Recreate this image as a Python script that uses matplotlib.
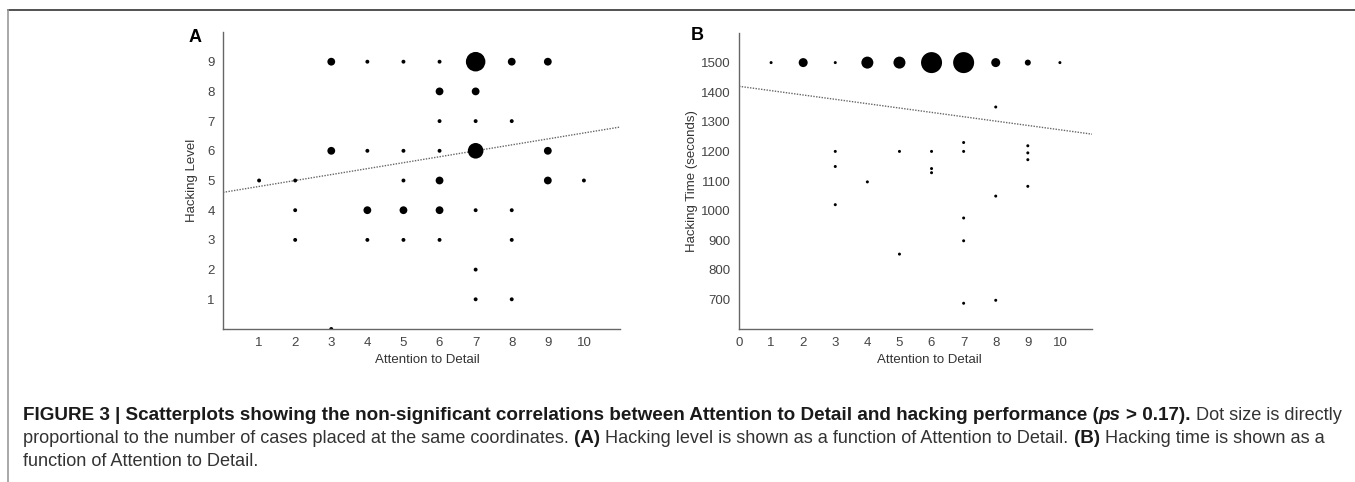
import matplotlib
matplotlib.use('Agg')
import matplotlib.pyplot as plt
from matplotlib.lines import Line2D

plt.rcParams['font.family'] = ['Liberation Sans', 'DejaVu Sans']

# Panel A: hacking level vs attention to detail (n = cases at the same coordinates)
a_detail = [3, 4, 5, 6, 7, 8, 9,
            6, 7,
            6, 7, 8,
            3, 4, 5, 6, 7, 9,
            1, 2, 5, 6, 9, 10,
            2, 4, 5, 6, 7, 8,
            2, 4, 5, 6, 8,
            7,
            7, 8,
            3]
a_level = [9, 9, 9, 9, 9, 9, 9,
           8, 8,
           7, 7, 7,
           6, 6, 6, 6, 6, 6,
           5, 5, 5, 5, 5, 5,
           4, 4, 4, 4, 4, 4,
           3, 3, 3, 3, 3,
           2,
           1, 1,
           0]
a_n = [2, 1, 1, 1, 5, 2, 2,
       2, 2,
       1, 1, 1,
       2, 1, 1, 1, 4, 2,
       1, 1, 1, 2, 2, 1,
       1, 2, 2, 2, 1, 1,
       1, 1, 1, 1, 1,
       1,
       1, 1,
       1]
a_fit = (4.6, 0.2)  # intercept, slope

# Panel B: hacking time (seconds) vs attention to detail
b_detail = [1, 2, 3, 4, 5, 6, 7, 8, 9, 10,
            3, 3, 3, 4, 5, 5, 6, 6, 6,
            7, 7, 7, 7, 7, 8, 8, 8, 9, 9, 9, 9]
b_time = [1500, 1500, 1500, 1500, 1500, 1500, 1500, 1500, 1500, 1500,
          1200, 1149, 1020, 1097, 1200, 853, 1200, 1142, 1128,
          1230, 1200, 975, 898, 687, 1350, 1049, 697, 1219, 1195, 1172, 1082]
b_n = [1, 3, 1, 4, 4, 7, 7, 3, 2, 1,
       1, 1, 1, 1, 1, 1, 1, 1, 1,
       1, 1, 1, 1, 1, 1, 1, 1, 1, 1, 1, 1]
b_fit = (1420, -14.7)

W, H = 1355, 482
fig = plt.figure(figsize=(W / 100, H / 100), dpi=100)


def px_box(left, top, right, bottom):
    return [left / W, 1 - bottom / H, (right - left) / W, (bottom - top) / H]


def style_axes(ax):
    for side in ['top', 'right']:
        ax.spines[side].set_visible(False)
    for side in ['left', 'bottom']:
        ax.spines[side].set_color('#666666')
        ax.spines[side].set_linewidth(1.0)
        ax.spines[side].set_zorder(5)
    ax.tick_params(axis='both', labelsize=9.5, colors='#444444', length=0)
    ax.tick_params(axis='y', pad=6)
    ax.tick_params(axis='x', pad=6)


def dot_size(counts, px_per_case):
    # diameter grows with the number of cases, scatter wants area in pt^2
    return [(c * px_per_case * 0.72) ** 2 for c in counts]


# ---- A ----
ax1 = fig.add_axes(px_box(223, 32, 620, 329))
ax1.scatter(a_detail, a_level, s=dot_size(a_n, 3.9), color='black', linewidths=0, zorder=3)
ax1.plot([0, 11], [a_fit[0], a_fit[0] + a_fit[1] * 11], color='#666666', lw=1.0,
         linestyle=(0, (1, 1)), zorder=2)
ax1.set_xlim(0, 11)
ax1.set_ylim(0, 10)
ax1.set_xticks(range(1, 11))
ax1.set_yticks(range(1, 10))
style_axes(ax1)
ax1.set_xlabel('Attention to Detail', fontsize=9.5, color='#333333')
ax1.set_ylabel('Hacking Level', fontsize=9.5, color='#333333')
ax1.xaxis.set_label_coords(0.516, -0.085)
ax1.yaxis.set_label_coords(-0.063, 0.5)
fig.text(195 / W, 1 - 37 / H, 'A', fontsize=13, fontweight='bold', va='center', ha='center')

# ---- B ----
ax2 = fig.add_axes(px_box(739, 33, 1092, 329))
ax2.scatter(b_detail, b_time, s=dot_size(b_n, 3.0), color='black', linewidths=0, zorder=3)
ax2.plot([0, 11], [b_fit[0], b_fit[0] + b_fit[1] * 11], color='#666666', lw=1.0,
         linestyle=(0, (1, 1)), zorder=2)
ax2.set_xlim(0, 11)
ax2.set_ylim(600, 1600)
ax2.set_xticks(range(0, 11))
ax2.set_yticks(range(700, 1600, 100))
style_axes(ax2)
ax2.set_xlabel('Attention to Detail', fontsize=9.5, color='#333333')
ax2.set_ylabel('Hacking Time (seconds)', fontsize=9.5, color='#333333')
ax2.xaxis.set_label_coords(0.54, -0.085)
ax2.yaxis.set_label_coords(-0.116, 0.5)
fig.text(697 / W, 1 - 36 / H, 'B', fontsize=13, fontweight='bold', va='center', ha='center')

# ---- frame ----
fig.add_artist(Line2D([8 / W, 1], [1 - 10 / H, 1 - 10 / H], color='#333333', lw=1.2))
fig.add_artist(Line2D([8 / W, 8 / W], [0, 1 - 10 / H], color='#999999', lw=1.2))

# ---- caption ----
caption = [
    [('FIGURE 3 | Scatterplots showing the non-significant correlations between Attention '
      'to Detail and hacking performance (', 'bold', 'normal', 0),
     ('ps', 'bold', 'italic', 0),
     ('> 0.17).', 'bold', 'normal', 1),
     ('Dot size is directly', 'normal', 'normal', 1)],
    [('proportional to the number of cases placed at the same coordinates.', 'normal', 'normal', 0),
     ('(A)', 'bold', 'normal', 1),
     ('Hacking level is shown as a function of Attention to Detail.', 'normal', 'normal', 1),
     ('(B)', 'bold', 'normal', 1),
     ('Hacking time is shown as a', 'normal', 'normal', 1)],
    [('function of Attention to Detail.', 'normal', 'normal', 0)],
]
baselines = [420, 443, 466]
line_ends = [1340, 1330]
renderer = fig.canvas.get_renderer()


def width_of(txt, size, weight, style):
    t = fig.text(0, 0, txt, fontsize=size, fontweight=weight, fontstyle=style)
    w = t.get_window_extent(renderer).width
    t.remove()
    return w


def space_of(size, weight):
    return width_of('x x', size, weight, 'normal') - width_of('xx', size, weight, 'normal')


def line_width(runs, sizes):
    total = 0
    for txt, weight, style, sep in runs:
        sz = sizes[weight]
        total += sep * space_of(sz, weight) + width_of(txt, sz, weight, style)
    return total


# regular size fitted on line 2, bold size then fitted on line 1
base = 10.0
reg = base * (line_ends[1] - 23) / line_width(caption[1], {'normal': base, 'bold': base})
bold = base
for _ in range(3):
    w1 = line_width(caption[0], {'normal': reg, 'bold': bold})
    bold *= (line_ends[0] - 23) / w1
sizes = {'normal': reg, 'bold': bold}

for runs, yb in zip(caption, baselines):
    x = 23
    for txt, weight, style, sep in runs:
        sz = sizes[weight]
        x += sep * space_of(sz, weight)
        col = '#1a1a1a' if weight == 'bold' else '#333333'
        fig.text(x / W, 1 - yb / H, txt, fontsize=sz, fontweight=weight,
                 fontstyle=style, color=col, va='baseline', ha='left')
        x += width_of(txt, sz, weight, style)

fig.savefig('out.png', dpi=100)
